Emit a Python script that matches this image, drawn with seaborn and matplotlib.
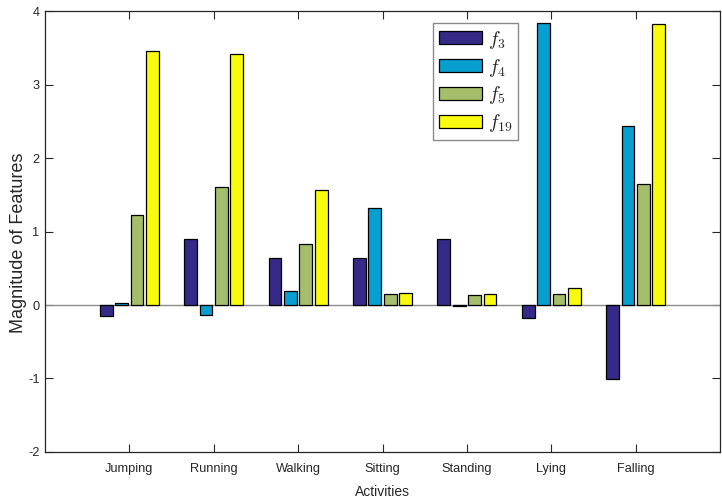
import matplotlib
matplotlib.use("Agg")
import matplotlib.pyplot as plt
import seaborn as sns
import pandas as pd

activities = ["Jumping", "Running", "Walking", "Sitting", "Standing", "Lying", "Falling"]
feature_labels = [r"$f_{3}$", r"$f_{4}$", r"$f_{5}$", r"$f_{19}$"]
f3 = [-0.15, 0.90, 0.645, 0.635, 0.90, -0.18, -1.01]
f4 = [0.03, -0.13, 0.19, 1.32, -0.02, 3.84, 2.44]
f5 = [1.23, 1.60, 0.83, 0.155, 0.135, 0.145, 1.64]
f19 = [3.45, 3.42, 1.56, 0.165, 0.15, 0.235, 3.82]
yticks = [-2, -1, 0, 1, 2, 3, 4]

colors = ["#352A87", "#069FCF", "#A5BE6B", "#F9FB0E"]

rows = []
for label, vals in zip(feature_labels, [f3, f4, f5, f19]):
    for act, v in zip(activities, vals):
        rows.append({"Activity": act, "Feature": label, "Value": v})
df = pd.DataFrame(rows)

sns.set_theme(style="white")
plt.rcParams["font.family"] = ["Liberation Sans", "DejaVu Sans"]
plt.rcParams["mathtext.fontset"] = "cm"

fig = plt.figure(figsize=(7.22, 5.03), dpi=100)
ax = fig.add_axes([0.0623, 0.1014, 0.935, 0.8767])

# bar baseline at zero
ax.axhline(0, color="#8c8c8c", lw=1.0, zorder=1)

sns.barplot(data=df, x="Activity", y="Value", hue="Feature",
            order=activities, hue_order=feature_labels,
            palette=colors, width=0.73, gap=0.17,
            edgecolor="black", linewidth=0.9, saturation=1,
            errorbar=None, ax=ax, zorder=2)

ax.set_xlim(-1, 7)
ax.set_ylim(-2, 4)
ax.set_yticks(yticks)
ax.set_yticklabels([str(t) for t in yticks])
ax.set_xlabel("Activities", fontsize=10, labelpad=7, color="#262626")
ax.set_ylabel("Magnitude of Features", fontsize=13, color="#262626")
ax.yaxis.set_label_coords(-0.027, 0.474)

for side in ["left", "right", "top", "bottom"]:
    ax.spines[side].set_visible(True)
    ax.spines[side].set_color("#262626")
    ax.spines[side].set_linewidth(0.9)

ax.tick_params(direction="in", length=6, width=0.8, color="#262626",
               labelsize=9.2, labelcolor="#262626",
               top=True, right=True, bottom=True, left=True)
ax.tick_params(axis="x", pad=8)
ax.tick_params(axis="y", pad=4)

leg = ax.legend(loc="upper left", bbox_to_anchor=(0.575, 0.973),
                fontsize=14, handlelength=2.2, handleheight=0.65,
                labelspacing=0.3, handletextpad=0.3, borderpad=0.3,
                borderaxespad=0, fancybox=False, frameon=True, title=None)
leg.get_frame().set_edgecolor("#6e6e6e")
leg.get_frame().set_linewidth(1.0)

fig.savefig("out.png", dpi=100)
